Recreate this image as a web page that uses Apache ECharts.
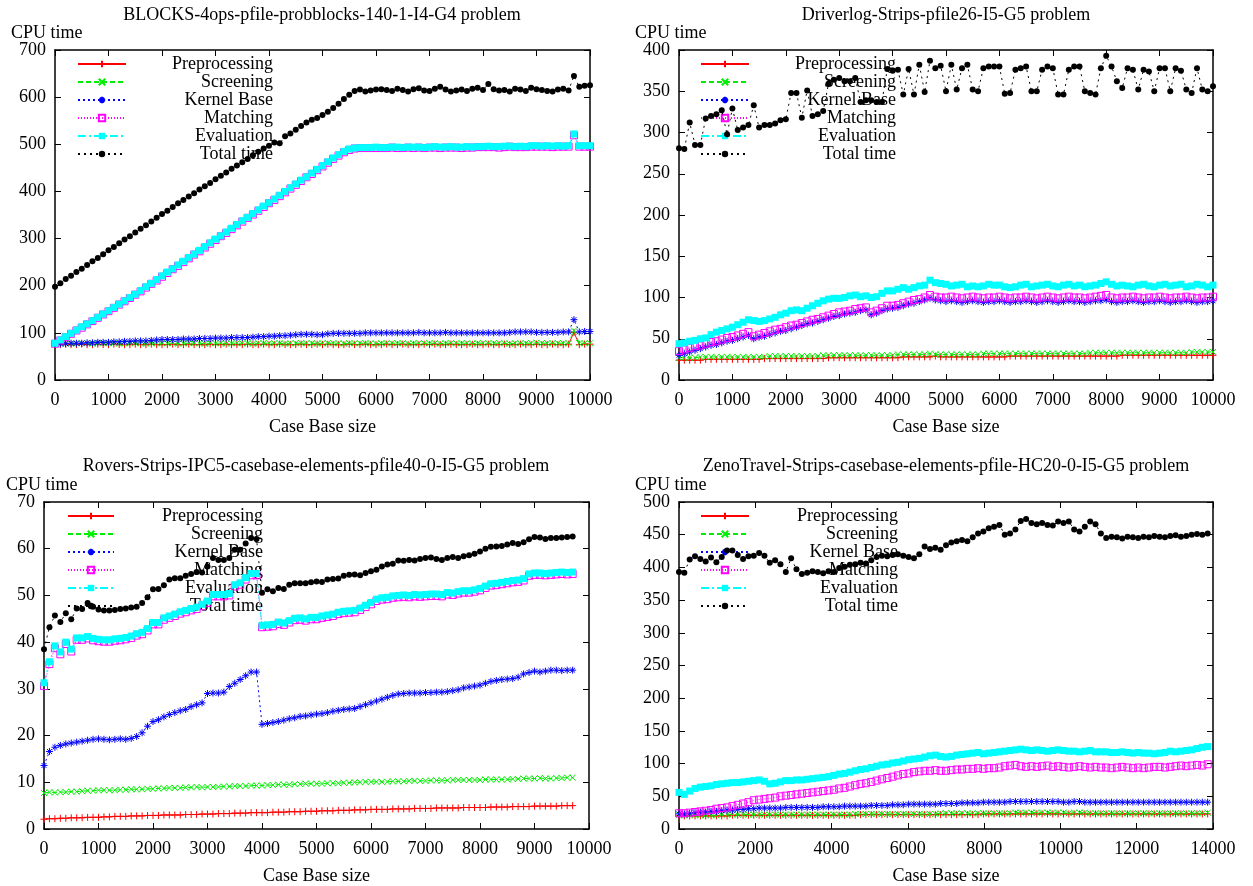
<!DOCTYPE html>
<html><head><meta charset="utf-8">
<script src="https://cdn.jsdelivr.net/npm/echarts@6/dist/echarts.min.js"></script>
<style>html,body{margin:0;padding:0;background:#fff}#c{width:1253px;height:886px}</style>
</head><body><div id="c"></div><script>
// ---------- tick / axis data ----------
const seriesNames = ['Preprocessing','Screening','Kernel Base','Matching','Evaluation','Total time'];
const titles = [
  'BLOCKS-4ops-pfile-probblocks-140-1-I4-G4 problem',
  'Driverlog-Strips-pfile26-I5-G5 problem',
  'Rovers-Strips-IPC5-casebase-elements-pfile40-0-I5-G5 problem',
  'ZenoTravel-Strips-casebase-elements-pfile-HC20-0-I5-G5 problem'
];
const yAxisName = 'CPU time';
const xAxisName = 'Case Base size';
// case base sizes: first value, step, count
const sizeSteps = [[0,100,101],[0,100,101],[0,100,98],[0,140,100]];

// ---------- BLOCKS ----------
const blocksPre = [75,75,76,75,75,76,75,75,76,75, 75,76,75,75,75,76,75,75,76,75, 75,75,76,75,75,76,75,75,75,76, 75,75,76,75,75,75,76,75,75,76, 75,75,76,75,75,75,76,75,75,76, 75,76,75,75,75,76,75,75,76,75, 75,75,76,75,75,76,75,75,75,76, 75,76,75,75,76,75,75,75,76,75, 75,76,75,75,76,75,75,76,75,75, 76,75,75,76,75,75,76,101,75,76, 76];
const blocksScr = [77,77,78,77,78,78,78,77,78,78, 78,78,77,78,78,78,78,77,78,78, 78,78,78,77,78,78,78,78,77,78, 78,78,77,78,78,78,78,77,78,78, 78,78,78,77,78,78,78,78,78,77, 78,78,78,78,77,78,78,78,78,78, 77,78,78,78,78,78,77,78,78,78, 78,78,77,78,78,78,78,78,77,78, 78,78,78,78,78,77,78,78,78,78, 79,78,78,78,78,78,78,105,78,78, 78];
const blocksKer = [77,77,77,78,78,78,79,79,80,80, 80,81,81,82,82,83,83,83,84,85, 86,86,86,86,87,87,87,88,88,88, 89,89,89,90,90,90,90,91,92,92, 93,93,94,94,95,96,97,97,97,96, 96,98,99,99,99,99,99,99,100,100, 100,100,100,100,100,100,100,100,101,100, 100,100,100,101,100,100,100,100,100,100, 100,100,100,100,100,101,102,102,102,102, 101,101,101,101,101,102,102,128,102,103, 103];
const blocksMat = [77,84,91,98,105,111,118,125,132,139, 146,153,160,167,174,181,188,196,204,211, 219,227,235,242,250,258,266,273,281,289, 297,305,312,320,328,336,344,351,359,367, 375,382,390,398,406,414,422,430,437,445, 453,461,469,476,483,488,491,492,492,492, 492,492,492,493,492,492,493,492,493,492, 493,493,492,493,493,493,492,493,493,494, 494,494,494,493,494,495,494,494,494,495, 495,495,495,494,495,495,495,519,495,495, 495];
const blocksEva = [78,85,92,99,106,113,119,126,133,140, 147,154,161,168,175,182,190,198,205,213, 221,229,236,244,252,260,267,275,283,291, 299,306,314,322,330,338,345,353,361,369, 376,384,392,400,408,416,424,431,439,447, 455,463,471,478,485,490,492,493,493,493, 494,493,493,494,494,493,494,494,494,493, 494,495,494,494,495,494,494,495,494,495, 495,496,495,495,496,496,495,496,495,497, 497,496,497,496,497,496,497,522,497,497, 497];
const blocksTot = [198,205,214,221,229,236,244,252,259,267, 275,282,290,298,305,313,321,328,336,344, 352,359,367,375,382,389,396,404,411,418, 426,433,440,448,455,462,469,477,484,491, 497,504,502,517,523,531,539,546,552,556, 562,569,577,586,596,605,613,616,612,614, 616,617,615,613,618,615,612,617,619,614, 613,618,622,616,612,614,616,613,618,620, 615,628,617,614,615,612,618,616,613,620, 617,615,613,612,616,618,614,645,622,624, 625];

// ---------- Driverlog ----------
const drivPre = [24,24,24,24,24,25,25,25,25,25, 25,25,25,25,25,25,26,26,26,26, 26,26,26,26,26,26,26,26,27,27, 27,27,27,27,27,27,27,27,27,27, 27,27,28,28,28,28,28,28,29,28, 28,28,28,28,28,28,28,28,28,28, 28,28,29,29,29,29,29,29,29,29, 29,29,29,29,29,29,29,29,29,29, 29,29,29,30,30,30,30,30,30,30, 30,30,30,30,30,30,30,30,30,30, 30];
const drivScr = [27,27,27,27,28,28,28,28,28,28, 28,28,28,28,28,28,28,29,29,29, 29,29,29,29,29,29,29,30,30,30, 30,30,30,30,30,30,30,30,30,30, 30,31,31,31,31,31,31,32,31,31, 31,31,31,31,31,31,31,32,32,32, 32,32,32,32,32,32,32,32,32,32, 32,32,32,32,32,32,32,33,33,33, 33,33,33,33,33,33,33,33,33,33, 33,33,33,33,33,33,34,34,34,34, 34];
const drivKer = [30,32,34,36,38,40,42,43,45,47, 48,50,52,54,50,52,53,55,57,59, 60,62,64,66,68,69,71,73,75,77, 78,80,81,82,84,85,79,81,84,86, 87,88,90,92,93,95,97,99,97,96, 95,96,95,94,95,96,95,94,95,95, 96,95,94,95,95,96,95,94,95,96, 95,94,95,96,95,95,94,95,96,96, 97,95,94,95,95,96,95,94,95,95, 96,95,94,95,95,96,95,94,95,95, 96];
const drivMat = [35,37,39,41,42,44,46,47,49,51, 52,54,56,58,53,55,57,59,61,62, 64,66,67,69,71,73,74,76,78,80, 82,83,84,86,87,88,82,84,87,90, 90,91,93,95,97,98,100,103,101,100, 100,101,100,99,100,101,100,99,100,100, 101,100,99,100,100,101,100,99,100,101, 100,99,100,101,100,100,99,100,101,102, 103,100,99,100,100,101,100,99,100,100, 101,100,99,100,100,101,100,99,100,100, 101];
const drivEva = [44,45,47,48,50,51,55,58,60,62, 64,67,70,73,72,71,72,74,76,79, 81,84,85,84,87,90,93,96,98,99, 99,100,102,103,101,102,100,101,105,108, 108,110,112,110,112,114,115,121,118,117, 116,114,115,116,113,114,113,114,116,115, 115,113,112,113,115,116,113,114,115,116, 114,113,115,116,114,115,113,114,115,117, 119,116,114,115,114,113,115,116,114,113, 115,116,114,115,116,113,114,116,115,113, 115];
const drivTot = [281,280,312,285,285,317,320,322,327,298, 329,303,306,309,333,306,309,309,311,315, 316,348,348,318,351,320,322,326,359,364, 366,362,362,366,337,339,339,337,337,377, 375,376,346,377,346,382,349,387,378,381, 350,382,352,378,382,352,350,378,380,380, 380,347,348,376,378,380,350,350,376,380, 378,346,346,376,380,380,350,348,346,378, 393,380,362,354,378,376,352,376,374,350, 378,378,350,378,375,352,348,378,352,350, 356];

// ---------- Rovers ----------
const rovPre = [2.1,2.2,2.2,2.3,2.3,2.4,2.4,2.4,2.5,2.5, 2.5,2.6,2.6,2.7,2.7,2.7,2.8,2.8,2.8,2.9, 2.9,2.9,3.0,3.0,3.0,3.0,3.1,3.1,3.1,3.2, 3.2,3.2,3.3,3.3,3.3,3.4,3.4,3.4,3.5,3.5, 3.5,3.5,3.6,3.6,3.6,3.7,3.7,3.7,3.8,3.8, 3.8,3.9,3.9,3.9,4.0,4.0,4.0,4.1,4.1,4.1, 4.2,4.2,4.2,4.2,4.3,4.3,4.3,4.3,4.4,4.4, 4.4,4.4,4.5,4.5,4.5,4.5,4.5,4.6,4.6,4.6, 4.6,4.6,4.7,4.7,4.7,4.7,4.8,4.8,4.8,4.8, 4.9,4.9,4.9,4.9,4.9,5.0,5.0,5.0];
const rovScr = [7.7,7.9,7.8,7.9,7.9,8.0,8.0,8.1,8.2,8.2, 8.3,8.3,8.3,8.3,8.4,8.4,8.5,8.5,8.5,8.6, 8.6,8.7,8.7,8.8,8.8,8.8,8.9,8.9,9.0,8.9, 9.0,9.0,9.0,9.1,9.1,9.2,9.2,9.2,9.3,9.3, 9.3,9.4,9.4,9.5,9.5,9.5,9.6,9.6,9.7,9.7, 9.7,9.7,9.8,9.8,9.8,9.9,9.9,10.0,10.0,10.1, 10.1,10.1,10.1,10.1,10.2,10.2,10.2,10.3,10.3,10.3, 10.3,10.4,10.4,10.4,10.4,10.5,10.5,10.5,10.5,10.5, 10.5,10.6,10.6,10.6,10.6,10.6,10.7,10.7,10.8,10.8, 10.8,10.9,10.8,10.8,10.9,10.9,11.0,11.0];
const rovKer = [13.6,16.6,17.5,17.9,18.2,18.4,18.6,18.8,19.0,19.2, 19.3,19.2,19.1,19.2,19.3,19.2,19.4,19.8,20.6,22.0, 23.0,23.4,24.0,24.5,24.9,25.3,25.6,26.2,26.6,27.0, 29.0,29.1,29.1,29.3,30.5,31.2,32.0,32.8,33.6,33.6, 22.4,22.6,22.8,23.0,23.3,23.6,23.8,24.1,24.2,24.4, 24.6,24.7,24.9,25.2,25.4,25.6,25.7,25.8,26.2,26.6, 27.0,27.4,27.8,28.2,28.6,28.9,29.0,29.1,29.1,29.1, 29.2,29.2,29.3,29.3,29.4,29.6,29.8,30.2,30.4,30.6, 30.8,31.2,31.6,31.8,32.0,32.1,32.2,32.5,33.2,33.5, 33.8,33.6,33.8,34.0,34.0,33.9,34.0,34.0];
const rovMat = [30.6,35.3,38.7,37.4,39.6,38.0,40.5,40.5,40.8,40.4, 40.2,40.1,40.1,40.3,40.4,40.6,40.9,41.4,41.7,42.5, 43.8,43.8,44.8,45.2,45.6,46.1,46.4,46.8,47.1,47.7, 48.4,49.8,49.8,49.8,50.0,51.9,52.3,53.4,54.3,54.3, 43.2,43.3,43.4,43.9,43.7,44.2,44.7,44.8,44.6,44.9, 44.9,45.2,45.4,45.6,46.0,46.2,46.3,46.4,46.9,47.5, 48.1,48.8,49.1,49.2,49.5,49.6,49.7,49.6,49.8,49.7, 49.8,49.9,49.9,49.8,50.2,50.1,50.4,50.6,50.6,50.8, 51.1,51.6,52.1,52.2,52.4,52.6,52.8,52.9,53.2,54.2, 54.4,54.4,54.3,54.4,54.5,54.6,54.5,54.6];
const rovEva = [31.3,35.8,39.2,37.9,40.0,38.5,40.9,40.9,41.2,40.8, 40.6,40.5,40.5,40.7,40.8,41.0,41.3,41.8,42.1,42.9, 44.2,44.2,45.2,45.6,46.0,46.5,46.8,47.2,47.5,48.1, 48.8,50.2,50.2,50.2,50.4,52.3,52.7,53.8,54.7,54.7, 43.6,43.7,43.8,44.3,44.1,44.6,45.1,45.2,45.0,45.3, 45.3,45.6,45.8,46.0,46.4,46.6,46.7,46.8,47.3,47.9, 48.5,49.2,49.5,49.6,49.9,50.0,50.1,50.0,50.2,50.1, 50.2,50.3,50.3,50.2,50.6,50.5,50.8,51.0,51.0,51.2, 51.5,52.0,52.5,52.6,52.8,53.0,53.2,53.3,53.6,54.6, 54.8,54.8,54.7,54.8,54.9,55.0,54.9,55.0];
const rovTot = [38.5,43.2,45.7,44.3,46.2,44.9,47.2,47.1,48.4,47.6, 47.0,46.8,46.8,46.9,47.1,47.2,47.4,47.6,48.4,49.6, 51.3,51.4,52.2,53.4,53.7,53.7,54.2,54.6,55.0,54.9, 56.2,58.0,57.6,57.6,58.0,59.8,59.8,61.1,62.3,62.1, 50.6,51.3,50.9,51.6,51.4,52.3,52.6,52.6,52.6,52.8, 53.0,52.9,53.4,53.5,53.6,54.2,54.4,54.5,54.3,54.8, 55.2,55.5,56.2,56.6,56.8,57.5,57.4,57.6,57.5,57.8, 58.0,58.1,57.8,57.6,58.0,58.2,58.0,58.4,58.6,58.9, 59.4,60.0,60.4,60.5,60.6,60.9,61.2,61.0,61.4,62.0, 62.5,62.4,62.1,62.3,62.3,62.4,62.5,62.6];

// ---------- ZenoTravel ----------
const zenoPre = [20,20,20,20,20,20,20,20,20,20, 21,21,21,21,21,21,21,21,21,21, 21,21,21,21,21,21,21,21,21,21, 21,21,21,21,22,22,22,22,22,22, 22,22,22,22,22,22,22,22,22,22, 22,22,22,22,22,22,22,23,23,23, 23,23,23,23,23,23,23,23,23,23, 23,23,23,23,23,23,23,23,23,23, 23,23,23,23,23,23,23,23,23,23, 23,23,23,23,23,23,23,23,23,23];
const zenoScr = [21,21,21,21,21,21,21,21,22,22, 22,22,22,22,22,22,22,22,22,22, 22,22,22,22,22,22,22,22,22,22, 22,22,22,23,23,23,23,23,23,23, 23,23,23,23,23,23,23,23,23,24, 24,24,24,24,24,24,24,24,24,24, 24,24,24,25,25,25,25,25,25,25, 25,25,25,24,25,25,25,24,24,24, 24,24,24,24,24,24,24,24,24,24, 24,24,24,24,24,24,24,24,24,25];
const zenoKer = [23,23,24,25,26,26,27,27,28,29, 29,30,30,31,31,32,32,32,32,32, 33,33,33,33,33,33,33,34,34,34, 34,35,35,35,35,35,36,36,36,36, 37,37,37,38,38,38,38,38,38,39, 39,39,39,40,40,40,40,41,41,41, 41,41,42,42,42,42,42,42,42,42, 42,42,41,41,42,42,41,41,41,41, 41,41,41,41,41,41,41,41,41,41, 41,41,41,41,41,41,41,41,41,41];
const zenoMat = [24,24,25,26,27,28,29,31,32,33, 35,37,39,41,44,45,46,47,48,50, 51,52,53,54,55,56,57,58,59,60, 62,63,65,67,69,70,72,74,76,78, 80,82,84,85,87,88,89,89,90,89, 89,90,91,91,92,92,93,92,93,93, 94,96,97,98,96,95,96,95,96,97, 95,96,95,94,95,96,95,94,95,94, 94,93,94,95,94,93,94,93,94,95, 95,94,95,96,97,96,97,98,97,99];
const zenoEva = [56,53,58,62,64,65,66,68,69,70, 71,71,72,73,74,75,73,69,70,72, 74,74,75,75,76,77,78,79,80,82, 84,85,87,89,91,92,94,96,98,99, 101,102,104,106,107,108,110,112,113,111, 110,111,113,114,115,116,117,115,116,117, 118,119,120,121,122,121,120,121,120,119, 120,121,120,119,119,118,119,120,118,118, 118,117,117,118,117,116,117,116,116,115, 116,117,119,118,119,120,121,123,125,126];
const zenoTot = [393,392,412,417,413,409,415,408,416,426, 426,419,413,417,418,422,418,407,411,405, 393,414,397,390,392,394,393,391,394,393, 399,401,404,405,407,406,411,416,418,417, 419,420,418,416,414,420,432,428,430,427, 434,438,440,442,440,446,452,455,460,462, 465,450,452,458,471,474,468,466,468,465, 464,470,468,470,458,455,462,470,466,452, 445,447,446,444,447,446,445,447,446,448, 447,446,448,449,447,448,450,451,450,452];

const panels = [
  {vals:[blocksPre,blocksScr,blocksKer,blocksMat,blocksEva,blocksTot], xmax:10000, xint:1000, ymax:700, yint:100},
  {vals:[drivPre,drivScr,drivKer,drivMat,drivEva,drivTot], xmax:10000, xint:1000, ymax:400, yint:50},
  {vals:[rovPre,rovScr,rovKer,rovMat,rovEva,rovTot], xmax:10000, xint:1000, ymax:70, yint:10},
  {vals:[zenoPre,zenoScr,zenoKer,zenoMat,zenoEva,zenoTot], xmax:14000, xint:2000, ymax:500, yint:50}
];

// ---------- layout / styles ----------
const FONT = 'Liberation Serif';
const FS = 18;
const gridBoxes = [
  {left:55, top:50, width:535, height:330},
  {left:679, top:50, width:534, height:330},
  {left:44, top:502, width:545, height:329},
  {left:679, top:502, width:534, height:330}
];
const titlePos = [
  {cx:322, top:6, yl:11, yt:24},
  {cx:946, top:6, yl:635, yt:24},
  {cx:316, top:457, yl:6, yt:476},
  {cx:946, top:457, yl:635, yt:476}
];
const legendPos = [
  {left:77, top:55, w:142, iw:48},
  {left:700, top:55, w:142, iw:48},
  {left:67, top:507, w:144, iw:46},
  {left:700, top:507, w:144, iw:48}
];
const PLUS = 'path://M0,5L10,5M5,0L5,10';
const CROSS = 'path://M1,1L9,9M1,9L9,1';
const STAR = 'path://M0,5L10,5M5,0L5,10M1.5,1.5L8.5,8.5M1.5,8.5L8.5,1.5';
const styles = [
  {color:'#ff0000', symbol:PLUS, size:7, filled:false, dash:'solid'},
  {color:'#00ee00', symbol:CROSS, size:6, filled:false, dash:[5,3]},
  {color:'#0000ff', symbol:STAR, size:7, filled:false, dash:[2,3]},
  {color:'#ff00ff', symbol:'rect', size:7, filled:false, dash:[1,2]},
  {color:'#00ffff', symbol:'rect', size:7, filled:true, dash:[8,3,2,3]},
  {color:'#000000', symbol:'circle', size:6, filled:true, dash:[2,4]}
];

function sizesOf(p){ const a=[]; for(let i=0;i<p[2];i++) a.push(p[0]+i*p[1]); return a; }

const grid=[], xAxis=[], yAxis=[], series=[], title=[], legend=[];
const axisCommon = {
  axisLine:{onZero:false, lineStyle:{color:'#000', width:1.5}},
  axisTick:{inside:true, length:6, lineStyle:{color:'#000', width:1}},
  splitLine:{show:false}
};
panels.forEach((p, gi) => {
  grid.push(Object.assign({}, gridBoxes[gi]));
  const xlab = {color:'#000', fontSize:FS, fontFamily:FONT, margin:11, formatter:(v)=>String(v)};
  const ylab = {color:'#000', fontSize:FS, fontFamily:FONT, margin:9, formatter:(v)=>String(v)};
  xAxis.push(Object.assign({gridIndex:gi, type:'value', min:0, max:p.xmax, interval:p.xint, position:'bottom',
    axisLabel:xlab, name:xAxisName, nameLocation:'middle', nameGap:38,
    nameTextStyle:{color:'#000', fontSize:FS, fontFamily:FONT}}, axisCommon));
  xAxis.push(Object.assign({gridIndex:gi, type:'value', min:0, max:p.xmax, interval:p.xint, position:'top',
    axisLabel:{show:false}}, axisCommon));
  yAxis.push(Object.assign({gridIndex:gi, type:'value', min:0, max:p.ymax, interval:p.yint, position:'left',
    axisLabel:ylab}, axisCommon));
  yAxis.push(Object.assign({gridIndex:gi, type:'value', min:0, max:p.ymax, interval:p.yint, position:'right',
    axisLabel:{show:false}}, axisCommon));
  title.push({text:titles[gi], left:titlePos[gi].cx, top:titlePos[gi].top, textAlign:'center', padding:0,
    textStyle:{color:'#000', fontSize:FS, fontWeight:'normal', fontFamily:FONT}});
  title.push({text:yAxisName, left:titlePos[gi].yl, top:titlePos[gi].yt, padding:0,
    textStyle:{color:'#000', fontSize:FS, fontWeight:'normal', fontFamily:FONT}});
  const sizes = sizesOf(sizeSteps[gi]);
  p.vals.forEach((vals, si) => {
    const s = styles[si];
    series.push({
      type:'line', name:seriesNames[si], xAxisIndex:gi*2, yAxisIndex:gi*2,
      data: vals.map((v,i)=>[sizes[i], v]),
      symbol:s.symbol, symbolSize:s.size, showSymbol:true, showAllSymbol:true, symbolKeepAspect:true,
      lineStyle:{color:s.color, width:1, type:s.dash},
      itemStyle: s.filled ? {color:s.color, borderWidth:0} : {color:'rgba(0,0,0,0)', borderColor:s.color, borderWidth:1},
      emphasis:{disabled:true}, animation:false, z:2+si
    });
  });
  const lp = legendPos[gi];
  legend.push({orient:'vertical', left:lp.left, top:lp.top, padding:0, itemWidth:lp.iw, itemHeight:8, itemGap:0,
    data:seriesNames, selectedMode:false,
    formatter:'{a|{name}}',
    textStyle:{color:'#000', fontFamily:FONT, fontSize:FS, lineHeight:17.8,
      rich:{a:{width:lp.w, align:'right', fontSize:FS, fontFamily:FONT, lineHeight:17.8, height:17.8, color:'#000'}}}});
});

const chart = echarts.init(document.getElementById('c'), null, {renderer:'canvas'});
chart.setOption({backgroundColor:'#fff', animation:false, grid, xAxis, yAxis, series, title, legend, tooltip:{show:false}});
</script></body></html>
